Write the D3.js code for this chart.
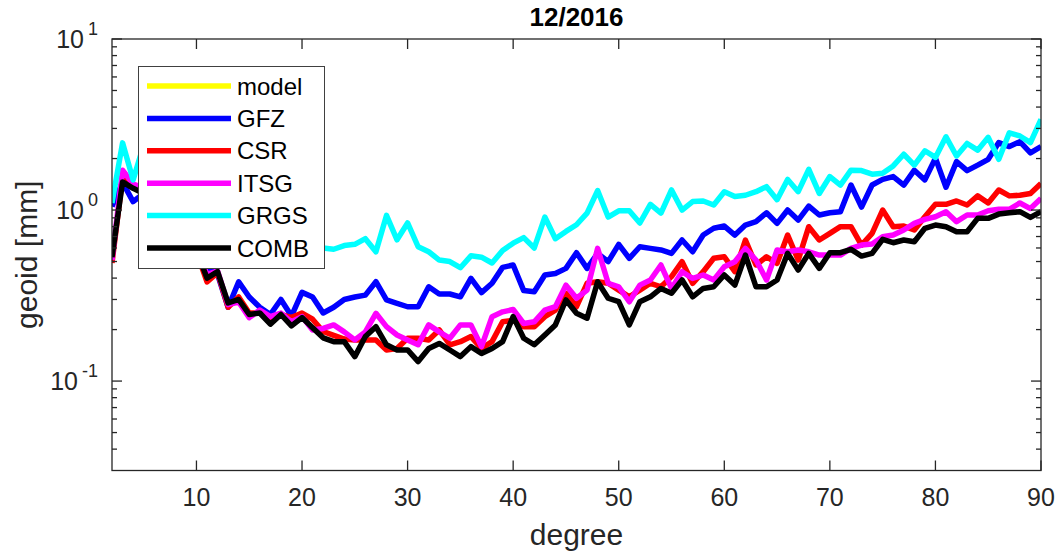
<!DOCTYPE html>
<html>
<head>
<meta charset="utf-8">
<script src="https://cdn.jsdelivr.net/npm/d3@7"></script>
<style>
  html, body { margin: 0; padding: 0; background: #fff; }
  svg { display: block; font-family: "Liberation Sans", Arial, Helvetica, sans-serif; }
</style>
</head>
<body>
<svg id="chart" width="1056" height="556"></svg>
<script>
// ---------------- data ----------------
const title = "12/2016";
const xLabel = "degree";
const yLabel = "geoid [mm]";
const degrees = d3.range(2, 91); // spherical harmonic degree 2..90

const seriesNames = ["model", "GFZ", "CSR", "ITSG", "GRGS", "COMB"];
const seriesColors = ["#ffff00", "#0000ff", "#ff0000", "#ff00ff", "#00ffff", "#000000"];

const model = [];
const GFZ = [1.05,1.45,1.12,1.25,1.15,1.0,0.88,0.75,0.62,0.46,0.42,0.27,0.38,0.31,0.27,0.245,0.30,0.24,0.33,0.31,
  0.25,0.27,0.30,0.31,0.318,0.381,0.298,0.285,0.272,0.272,0.356,0.323,0.323,0.311,0.398,0.329,0.373,0.462,0.477,0.338,
  0.333,0.417,0.426,0.456,0.563,0.456,0.558,0.499,0.630,0.522,0.610,
  0.597,0.584,0.558,0.668,0.570,0.714,0.782,0.806,0.714,0.817,0.855,0.964,0.836,1.0,0.874,1.055,0.935,0.964,0.978,1.40,
  1.04,1.40,1.51,1.57,1.40,1.71,1.50,2.01,1.36,1.92,1.70,1.83,1.98,2.48,2.35,2.51,2.16,2.35];
const CSR = [0.49,1.55,1.38,1.3,1.12,1.0,0.87,0.74,0.57,0.38,0.43,0.27,0.31,0.25,0.25,0.235,0.245,0.235,0.25,0.23,
  0.195,0.185,0.176,0.174,0.174,0.174,0.152,0.155,0.178,0.178,0.174,0.199,0.163,0.170,0.182,0.155,0.170,0.222,0.227,0.208,
  0.208,0.238,0.260,0.326,0.272,0.373,0.381,0.373,0.340,0.311,0.340,
  0.373,0.356,0.408,0.499,0.373,0.436,0.522,0.533,0.436,0.668,0.477,0.533,0.488,0.714,0.510,0.799,0.668,0.731,0.799,0.799,
  0.624,0.731,1.0,0.799,0.806,0.764,0.914,1.08,1.08,1.13,1.07,1.21,1.10,1.31,1.21,1.22,1.25,1.43];
const ITSG = [0.51,1.71,1.42,1.35,1.15,1.02,0.9,0.76,0.6,0.42,0.44,0.28,0.29,0.235,0.26,0.238,0.25,0.222,0.238,0.199,
  0.203,0.213,0.194,0.174,0.194,0.249,0.208,0.186,0.174,0.163,0.213,0.194,0.178,0.213,0.213,0.159,0.238,0.254,0.262,0.217,
  0.222,0.260,0.272,0.364,0.305,0.340,0.597,0.373,0.356,0.291,0.364,
  0.39,0.477,0.348,0.436,0.398,0.417,0.390,0.466,0.499,0.597,0.510,0.390,0.584,0.570,0.584,0.570,0.545,0.545,0.545,0.597,
  0.624,0.633,0.698,0.714,0.764,0.836,0.882,0.914,0.978,0.855,0.935,0.935,0.99,1.01,1.01,1.10,1.02,1.17];
const GRGS = [1.1,2.47,1.5,2.4,1.8,1.6,1.5,1.3,1.2,1.0,1.0,0.85,0.9,0.8,0.75,0.78,0.7,0.72,0.65,0.68,
  0.6,0.59,0.62,0.63,0.68,0.57,0.93,0.67,0.84,0.61,0.57,0.51,0.50,0.46,0.54,0.53,0.49,0.58,0.64,0.69,
  0.60,0.91,0.68,0.75,0.82,0.96,1.30,0.91,0.99,0.99,0.84,
  1.08,0.96,1.31,1.0,1.12,1.13,1.07,1.28,1.20,1.22,1.28,1.37,1.15,1.51,1.28,1.73,1.25,1.57,1.40,1.71,
  1.70,1.62,1.64,1.81,2.12,1.83,2.22,2.03,2.68,2.07,2.45,2.24,2.66,1.98,2.83,2.71,2.48,3.39];
const COMB = [0.53,1.46,1.34,1.25,1.1,0.98,0.85,0.72,0.58,0.40,0.436,0.286,0.30,0.245,0.25,0.215,0.245,0.21,0.235,0.205,
  0.179,0.17,0.17,0.139,0.182,0.208,0.163,0.152,0.152,0.130,0.155,0.166,0.152,0.139,0.159,0.145,0.155,0.170,0.238,0.178,
  0.163,0.186,0.213,0.298,0.249,0.233,0.381,0.305,0.291,0.213,0.291,
  0.311,0.348,0.326,0.390,0.311,0.348,0.356,0.417,0.364,0.545,0.356,0.356,0.390,0.558,0.446,0.558,0.456,0.563,0.563,0.589,
  0.538,0.558,0.674,0.644,0.668,0.653,0.782,0.817,0.799,0.747,0.747,0.894,0.894,0.947,0.964,0.978,0.905,0.978];

const xTicks = [10, 20, 30, 40, 50, 60, 70, 80, 90];
const yMajorTicks = [0.1, 1, 10];
const yMinorTicks = [0.04,0.05,0.06,0.07,0.08,0.09,0.2,0.3,0.4,0.5,0.6,0.7,0.8,0.9,2,3,4,5,6,7,8,9];
const xDomain = [2, 90];
const yDomain = [0.03, 10];

// ---------------- layout ----------------
const L = 112, R = 1041, T = 39, B = 470.5;
const axisColor = "#262626";
const svg = d3.select("#chart");

const x = d3.scaleLinear().domain(xDomain).range([L, R]);
const y = d3.scaleLog().domain(yDomain).range([B, T]);

svg.append("rect").attr("x", 0).attr("y", 0).attr("width", 1056).attr("height", 556).attr("fill", "#fff");

svg.append("defs").append("clipPath").attr("id", "plotclip")
  .append("rect").attr("x", L).attr("y", T).attr("width", R - L).attr("height", B - T);

// ---------------- lines ----------------
const allSeries = [model, GFZ, CSR, ITSG, GRGS, COMB];
const line = d3.line().x((d, i) => x(degrees[i])).y(d => y(d));
const gLines = svg.append("g").attr("clip-path", "url(#plotclip)");
allSeries.forEach((s, k) => {
  if (!s.length) return;
  gLines.append("path")
    .attr("d", line(s))
    .attr("fill", "none")
    .attr("stroke", seriesColors[k])
    .attr("stroke-width", 5.5)
    .attr("stroke-linejoin", "round")
    .attr("stroke-linecap", "butt");
});

// ---------------- axes ----------------
const gAx = svg.append("g").attr("stroke", axisColor).attr("stroke-width", 1.3).attr("fill", "none");
gAx.append("rect").attr("x", L).attr("y", T).attr("width", R - L).attr("height", B - T);

const majorLen = 10, minorLen = 5;
xTicks.forEach(v => {
  const px = x(v);
  gAx.append("line").attr("x1", px).attr("x2", px).attr("y1", B).attr("y2", B - majorLen);
  gAx.append("line").attr("x1", px).attr("x2", px).attr("y1", T).attr("y2", T + majorLen);
});
yMajorTicks.forEach(v => {
  const py = y(v);
  gAx.append("line").attr("x1", L).attr("x2", L + majorLen).attr("y1", py).attr("y2", py);
  gAx.append("line").attr("x1", R).attr("x2", R - majorLen).attr("y1", py).attr("y2", py);
});
yMinorTicks.forEach(v => {
  const py = y(v);
  gAx.append("line").attr("x1", L).attr("x2", L + minorLen).attr("y1", py).attr("y2", py);
  gAx.append("line").attr("x1", R).attr("x2", R - minorLen).attr("y1", py).attr("y2", py);
});

// tick labels
const gTxt = svg.append("g").attr("fill", axisColor);
xTicks.forEach(v => {
  gTxt.append("text").attr("x", x(v)).attr("y", 506).attr("text-anchor", "middle")
    .attr("font-size", 25).text(v);
});
yMajorTicks.forEach(v => {
  const e = Math.round(Math.log10(v));
  const t = gTxt.append("text").attr("x", 98).attr("y", y(v) + 9).attr("text-anchor", "end").attr("font-size", 25);
  t.append("tspan").text("10");
  t.append("tspan").attr("dx", 4).attr("dy", -13).attr("font-size", 18).text(e < 0 ? "-" + Math.abs(e) : String(e));
});

// axis labels and title
gTxt.append("text").attr("x", (L + R) / 2).attr("y", 545).attr("text-anchor", "middle")
  .attr("font-size", 30).text(xLabel);
gTxt.append("text").attr("transform", `translate(37,${(T + B) / 2}) rotate(-90)`)
  .attr("text-anchor", "middle").attr("font-size", 30).text(yLabel);
svg.append("text").attr("x", (L + R) / 2).attr("y", 26).attr("text-anchor", "middle")
  .attr("font-size", 26).attr("font-weight", "bold").attr("fill", "#000").text(title);

// ---------------- legend ----------------
const lg = svg.append("g");
lg.append("rect").attr("x", 138.5).attr("y", 66.5).attr("width", 186).attr("height", 202)
  .attr("fill", "#fff").attr("stroke", "#404040").attr("stroke-width", 1);
const legendY = d3.scalePoint().domain(seriesNames).range([86, 248]);
seriesNames.forEach((n, k) => {
  const ly = legendY(n);
  lg.append("line").attr("x1", 147).attr("x2", 231).attr("y1", ly).attr("y2", ly)
    .attr("stroke", seriesColors[k]).attr("stroke-width", 5.5);
  lg.append("text").attr("x", 237).attr("y", ly + 8.5).attr("font-size", 24).attr("fill", "#000").text(n);
});
</script>
</body>
</html>
